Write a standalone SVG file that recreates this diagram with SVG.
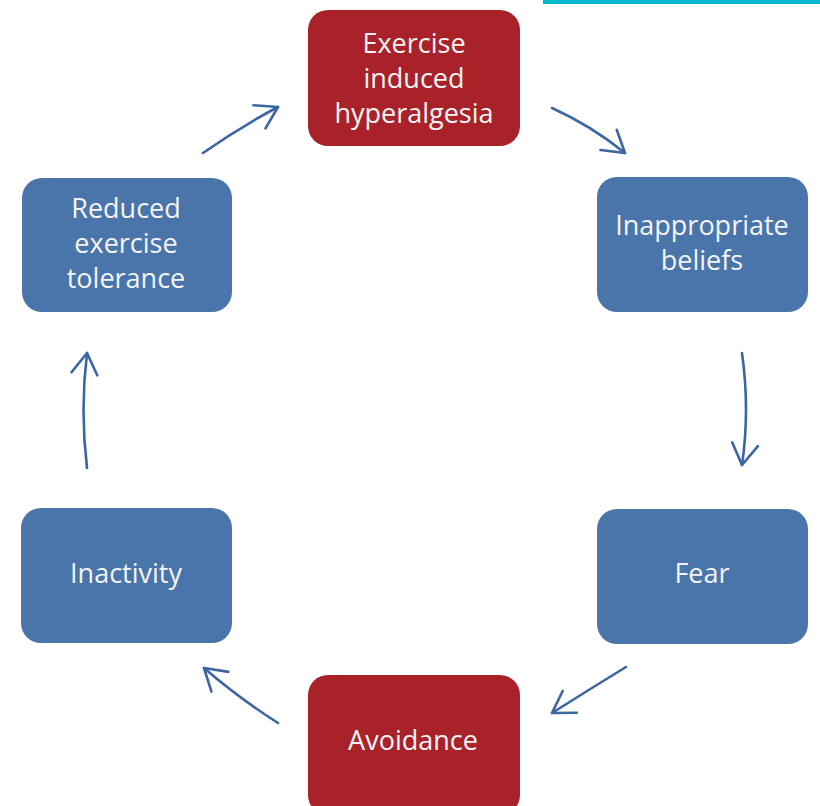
<svg xmlns="http://www.w3.org/2000/svg" width="820" height="806" viewBox="0 0 820 806">
  <style>
    .box { stroke: none; }
    .red { fill: #a9222a; }
    .blue { fill: #4a75aa; }
    .label { font-family: "Open Sans", "Noto Sans", "Liberation Sans", sans-serif; font-size: 27px; fill: #f4f4f4; text-anchor: middle; }
    .link { fill: none; stroke: #3c66a2; stroke-width: 2.6; stroke-linecap: round; marker-end: url(#chevron); }
  </style>
  <defs>
    <marker id="chevron" markerUnits="userSpaceOnUse" markerWidth="40" markerHeight="40" viewBox="-30 -20 40 40" refX="0" refY="0" orient="auto">
      <path d="M -21 -13 L 0 0 L -21 13" fill="none" stroke="#3c66a2" stroke-width="2.6" stroke-linecap="round" stroke-linejoin="round"/>
    </marker>
  </defs>

  <rect x="0" y="0" width="820" height="806" fill="#ffffff"/>
  <!-- accent strip along the top edge -->
  <rect x="543" y="0" width="277" height="4" fill="#00b8cc"/>

  <g id="node-hyperalgesia">
    <rect class="box red" x="308" y="10" width="212" height="136" rx="20"/>
    <text class="label" x="414" y="53">Exercise</text>
    <text class="label" x="414" y="88">induced</text>
    <text class="label" x="414" y="123">hyperalgesia</text>
  </g>

  <g id="node-beliefs">
    <rect class="box blue" x="597" y="177" width="211" height="135" rx="20"/>
    <text class="label" x="702" y="235">Inappropriate</text>
    <text class="label" x="702" y="270">beliefs</text>
  </g>

  <g id="node-fear">
    <rect class="box blue" x="597" y="509" width="211" height="135" rx="20"/>
    <text class="label" x="702" y="583">Fear</text>
  </g>

  <g id="node-avoidance">
    <rect class="box red" x="308" y="675" width="212" height="140" rx="20"/>
    <text class="label" x="413" y="750">Avoidance</text>
  </g>

  <g id="node-inactivity">
    <rect class="box blue" x="21" y="508" width="211" height="135" rx="20"/>
    <text class="label" x="126" y="583">Inactivity</text>
  </g>

  <g id="node-tolerance">
    <rect class="box blue" x="22" y="178" width="210" height="134" rx="20"/>
    <text class="label" x="126" y="218">Reduced</text>
    <text class="label" x="126" y="253">exercise</text>
    <text class="label" x="126" y="288">tolerance</text>
  </g>

  <g id="connectors">
    <path class="link" d="M 203 153 Q 240 127 278 107"/>
    <path class="link" d="M 552 108 Q 590 125 625 153"/>
    <path class="link" d="M 742 353 Q 750 410 742 465"/>
    <path class="link" d="M 626 667 Q 590 689 552 713"/>
    <path class="link" d="M 278 723 Q 240 699 204 668"/>
    <path class="link" d="M 87 468 Q 80 410 87 353"/>
  </g>
</svg>
